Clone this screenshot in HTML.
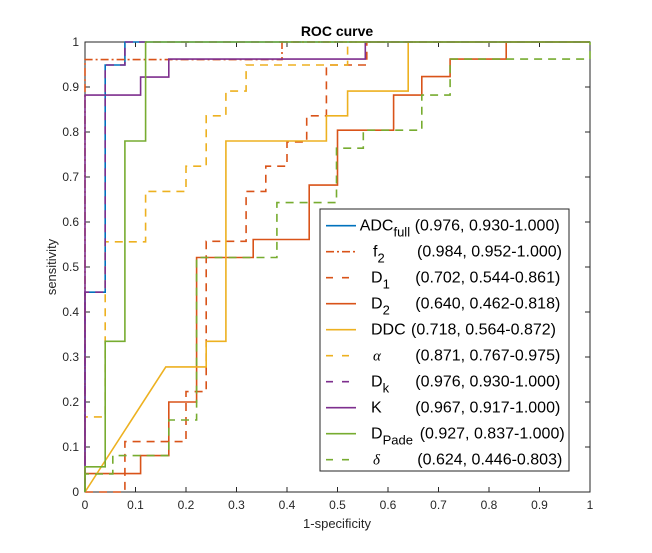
<!DOCTYPE html>
<html><head><meta charset="utf-8"><style>
body{margin:0;background:#fff;}
svg{display:block;font-family:"Liberation Sans",sans-serif;}
</style></head><body>
<svg id="chart" width="652" height="553" viewBox="0 0 652 553" xmlns="http://www.w3.org/2000/svg">
<rect x="0" y="0" width="652" height="553" fill="#fff"/>
<g id="axes"></g>
<g id="series"></g>
<text x="337" y="36" text-anchor="middle" font-size="14" font-weight="bold" fill="#000">ROC curve</text>
<text x="337" y="528" text-anchor="middle" font-size="13" fill="#262626">1-specificity</text>
<text transform="translate(56,267) rotate(-90)" text-anchor="middle" font-size="13" fill="#262626">sensitivity</text>
<g id="legend"></g>
</svg>
<script>
const ticks = [0,0.1,0.2,0.3,0.4,0.5,0.6,0.7,0.8,0.9,1];
const tickLabels = ["0","0.1","0.2","0.3","0.4","0.5","0.6","0.7","0.8","0.9","1"];
const seriesNames = ["ADC","f2","D1","D2","DDC","alpha","Dk","K","DPade","delta"];
const fprADC = [0,0,0.04,0.04,0.079,0.079,1];
const tprADC = [0,0.444,0.444,0.949,0.949,1,1];
const fprF2 = [0,0,0.39,0.39,1];
const tprF2 = [0,0.961,0.961,1,1];
const fprD1 = [0,0.079,0.079,0.2,0.2,0.24,0.24,0.319,0.319,0.358,0.358,0.4,0.4,0.439,0.439,0.478,0.478,0.558,0.558,1];
const tprD1 = [0,0,0.112,0.112,0.223,0.223,0.557,0.557,0.668,0.668,0.724,0.724,0.778,0.778,0.836,0.836,0.949,0.949,1,1];
const fprD2 = [0,0,0.11,0.11,0.166,0.166,0.221,0.221,0.333,0.333,0.444,0.444,0.5,0.5,0.611,0.611,0.667,0.667,0.723,0.723,0.834,0.834,1];
const tprD2 = [0,0.041,0.041,0.081,0.081,0.2,0.2,0.521,0.521,0.561,0.561,0.682,0.682,0.804,0.804,0.882,0.882,0.923,0.923,0.962,0.962,1,1];
const fprDDC = [0,0.16,0.24,0.24,0.279,0.279,0.478,0.478,0.52,0.52,0.64,0.64,1];
const tprDDC = [0,0.278,0.278,0.335,0.335,0.78,0.78,0.836,0.836,0.891,0.891,1,1];
const fprAlpha = [0,0,0.04,0.04,0.12,0.12,0.2,0.2,0.24,0.24,0.279,0.279,0.319,0.319,0.52,0.52,1];
const tprAlpha = [0,0.167,0.167,0.556,0.556,0.668,0.668,0.724,0.724,0.836,0.836,0.891,0.891,0.949,0.949,1,1];
const fprDk = [0,0,0.04,0.04,0.079,0.079,1];
const tprDk = [0,0.444,0.444,0.949,0.949,1,1];
const fprK = [0,0,0.11,0.11,0.166,0.166,0.555,0.555,1];
const tprK = [0,0.882,0.882,0.922,0.922,0.962,0.962,1,1];
const fprPade = [0,0,0.04,0.04,0.079,0.079,0.12,0.12,1];
const tprPade = [0,0.056,0.056,0.335,0.335,0.78,0.78,1,1];
const fprDelta = [0,0,0.055,0.055,0.166,0.166,0.221,0.221,0.38,0.38,0.498,0.498,0.551,0.551,0.667,0.667,0.723,0.723,1,1];
const tprDelta = [0,0.04,0.04,0.081,0.081,0.16,0.16,0.521,0.521,0.643,0.643,0.764,0.764,0.804,0.804,0.882,0.882,0.962,0.962,1];

const NS="http://www.w3.org/2000/svg";
const X0=85,X1=590,Y0=492,Y1=42;
function sx(v){return X0+v*(X1-X0);}
function sy(v){return Y0-v*(Y0-Y1);}
function mk(tag,attrs,parent){const e=document.createElementNS(NS,tag);for(const k in attrs)e.setAttribute(k,attrs[k]);parent.appendChild(e);return e;}

const axes=document.getElementById('axes');
const box=mk('rect',{x:X0,y:Y1,width:X1-X0,height:Y0-Y1,fill:'none',stroke:'#262626','stroke-width':1},axes);


ticks.forEach((t,i)=>{
  const xt=mk('line',{x1:sx(t),x2:sx(t),y1:Y0,y2:Y0-5,stroke:'#262626'},axes);
  
  
  mk('line',{x1:sx(t),x2:sx(t),y1:Y1,y2:Y1+5,stroke:'#262626'},axes);
  const yt=mk('line',{x1:X0,x2:X0+5,y1:sy(t),y2:sy(t),stroke:'#262626'},axes);
  
  
  mk('line',{x1:X1,x2:X1-5,y1:sy(t),y2:sy(t),stroke:'#262626'},axes);
  const xl=mk('text',{x:sx(t),y:Y0+17,'text-anchor':'middle','font-size':12,fill:'#262626'},axes);
  xl.textContent=tickLabels[i];
  
  
  const yl=mk('text',{x:X0-6,y:sy(t)+4,'text-anchor':'end','font-size':12,fill:'#262626'},axes);
  yl.textContent=tickLabels[i];
  
  
});

const styles=[
 {fx:fprADC,ty:tprADC,c:'#0072BD',d:'',n:'roc-adc-full'},
 {fx:fprF2,ty:tprF2,c:'#D95319',d:'8 3 2 3',n:'roc-f2'},
 {fx:fprD1,ty:tprD1,c:'#D95319',d:'8 6',n:'roc-d1'},
 {fx:fprD2,ty:tprD2,c:'#D95319',d:'',n:'roc-d2'},
 {fx:fprDDC,ty:tprDDC,c:'#EDB120',d:'',n:'roc-ddc'},
 {fx:fprAlpha,ty:tprAlpha,c:'#EDB120',d:'8 6',n:'roc-alpha'},
 {fx:fprDk,ty:tprDk,c:'#7E2F8E',d:'8 6',n:'roc-dk'},
 {fx:fprK,ty:tprK,c:'#7E2F8E',d:'',n:'roc-k'},
 {fx:fprPade,ty:tprPade,c:'#77AC30',d:'',n:'roc-dpade'},
 {fx:fprDelta,ty:tprDelta,c:'#77AC30',d:'8 6',n:'roc-delta'}
];
const sg=document.getElementById('series');
styles.forEach(s=>{
  const pts=s.fx.map((v,i)=>sx(v).toFixed(1)+','+sy(s.ty[i]).toFixed(1)).join(' ');
  const p=mk('polyline',{points:pts,fill:'none',stroke:s.c,'stroke-width':1.6},sg);
  if(s.d)p.setAttribute('stroke-dasharray',s.d);
  
  
});
</script>
<script>
const lg=document.getElementById('legend');
const lgBox=mk('rect',{x:320,y:209,width:249,height:262,fill:'#fff',stroke:'#262626','stroke-width':1},lg);


const legRows=[
 ['ADC','full',359.7,'(0.976, 0.930-1.000)',414.7,0],
 ['f','2',373,'(0.984, 0.952-1.000)',417,1],
 ['D','1',371,'(0.702, 0.544-0.861)',415.3,2],
 ['D','2',371,'(0.640, 0.462-0.818)',415.3,3],
 ['DDC','',371,'(0.718, 0.564-0.872)',411,4],
 ['α','',373,'(0.871, 0.767-0.975)',415.3,5],
 ['D','k',371,'(0.976, 0.930-1.000)',415.3,6],
 ['K','',371,'(0.967, 0.917-1.000)',415.3,7],
 ['D','Pade',371,'(0.927, 0.837-1.000)',419.7,8],
 ['δ','',373,'(0.624, 0.446-0.803)',417.3,9]
];
legRows.forEach((r,i)=>{
  const y=225.7+i*26;
  const s=styles[r[5]];
  const ln=mk('line',{x1:326,x2:356,y1:y,y2:y,stroke:s.c,'stroke-width':1.6},lg);
  if(s.d)ln.setAttribute('stroke-dasharray',s.d==='8 6'?'7 9':s.d);
  
  
  const t=mk('text',{x:r[2],y:y+5,'font-size':16,fill:'#000'},lg);
  if(r[0]==='α'||r[0]==='δ'){t.setAttribute('font-style','italic');t.setAttribute('font-family','"Liberation Serif",serif');t.setAttribute('font-size','15');}
  t.textContent=r[0];
  if(r[1]){const sub=mk('tspan',{dy:6,'font-size':13},t);sub.textContent=r[1];}
  
  
  const v=mk('text',{x:r[4],y:y+5,'font-size':16,fill:'#000'},lg);
  v.textContent=r[3];
  
  
});
</script>
</body></html>
